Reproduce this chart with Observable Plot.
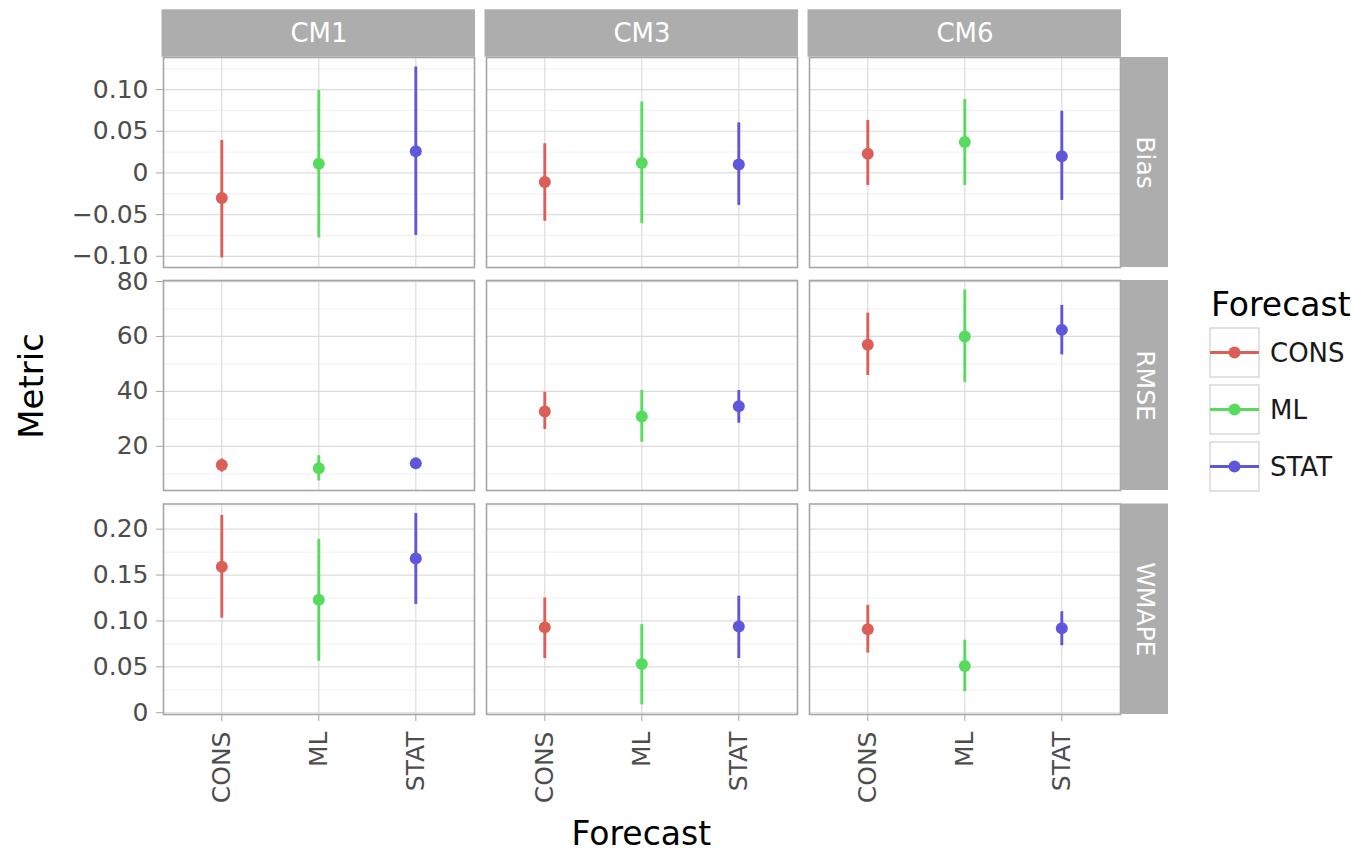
<!DOCTYPE html>
<html><head><meta charset="utf-8">
<script src="https://cdn.jsdelivr.net/npm/d3@7"></script>
<script src="https://cdn.jsdelivr.net/npm/@observablehq/plot@0.6"></script>
<style>
html,body{margin:0;padding:0;background:#fff;}
#chart{position:relative;width:1363px;height:855px;overflow:hidden;font-family:"DejaVu Sans",sans-serif;}
#chart .row{position:absolute;left:0;width:1363px;}
</style></head><body><div id="chart"></div>
<script>
// ---- data ----
const cms = ["CM1", "CM3", "CM6"];
const metrics = ["Bias", "RMSE", "WMAPE"];
const forecasts = ["CONS", "ML", "STAT"];
const colors = ["#db5f57", "#57db5f", "#5f57db"];

// values ordered: CM1 (CONS, ML, STAT), CM3 (CONS, ML, STAT), CM6 (CONS, ML, STAT)
const biasMean = [-0.030, 0.011, 0.026, -0.011, 0.012, 0.010, 0.023, 0.037, 0.020];
const biasLow  = [-0.102, -0.078, -0.075, -0.058, -0.061, -0.039, -0.015, -0.015, -0.033];
const biasHigh = [0.039, 0.099, 0.127, 0.035, 0.085, 0.060, 0.063, 0.088, 0.074];

const rmseMean = [13.2, 12.0, 13.8, 32.7, 30.9, 34.6, 57.0, 60.0, 62.4];
const rmseLow  = [10.6, 7.4, 12.3, 26.1, 21.5, 28.4, 45.8, 43.3, 53.3];
const rmseHigh = [15.4, 16.6, 15.3, 39.7, 40.3, 40.3, 68.5, 76.9, 71.3];

const wmapeMean = [0.159, 0.123, 0.168, 0.093, 0.053, 0.094, 0.091, 0.051, 0.092];
const wmapeLow  = [0.103, 0.056, 0.118, 0.059, 0.0085, 0.059, 0.065, 0.023, 0.073];
const wmapeHigh = [0.215, 0.189, 0.217, 0.125, 0.096, 0.127, 0.117, 0.079, 0.110];

const biasTicks = [-0.10, -0.05, 0, 0.05, 0.10];
const biasMinor = [-0.075, -0.025, 0.025, 0.075, 0.125];
const rmseTicks = [20, 40, 60, 80];
const rmseMinor = [10, 30, 50, 70];
const wmapeTicks = [0, 0.05, 0.10, 0.15, 0.20];
const wmapeMinor = [0.025, 0.075, 0.125, 0.175, 0.225];

// ---- build tables ----
function table(mean, low, high) {
  const out = [];
  cms.forEach((cm, ci) => forecasts.forEach((f, fi) => {
    const k = ci * 3 + fi;
    out.push({cm, forecast: f, mean: mean[k], low: low[k], high: high[k]});
  }));
  return out;
}
const rowsSpec = [
  {metric: "Bias", data: table(biasMean, biasLow, biasHigh), ticks: biasTicks, minor: biasMinor,
   fmt: d => d === 0 ? "0" : d3.format(".2f")(d)},
  {metric: "RMSE", data: table(rmseMean, rmseLow, rmseHigh), ticks: rmseTicks, minor: rmseMinor,
   fmt: d => d3.format("d")(d)},
  {metric: "WMAPE", data: table(wmapeMean, wmapeLow, wmapeHigh), ticks: wmapeTicks, minor: wmapeMinor,
   fmt: d => d === 0 ? "0" : d3.format(".2f")(d)}
];

// ---- layout ----
const W = 1363, ML = 161.7, MR = W - 1121;
const padInner = 0.03706;
const step = (W - ML - MR) / (3 - padInner);
const bw = step * (1 - padInner);
const layout = [
  {top: 0, mt: 57, h: 210, mb: 3},
  {top: 270, mt: 10, h: 210, mb: 3},
  {top: 493, mt: 10.5, h: 210.5, mb: 120}
];
const stripFill = "#adadad";
const tickCol = "#a6a6a6";
const textCol = "#4d4d4d";

const chart = document.getElementById("chart");

rowsSpec.forEach((spec, ri) => {
  const L = layout[ri];
  const lo = d3.min(spec.data, d => d.low), hi = d3.max(spec.data, d => d.high);
  const pad = (hi - lo) * 0.05;
  const marks = [
    Plot.gridY(spec.minor, {stroke: "#ededed", strokeOpacity: 1, strokeWidth: 0.8}),
    Plot.gridY(spec.ticks, {stroke: "#dcdcdc", strokeOpacity: 1, strokeWidth: 1.2}),
    Plot.gridX(forecasts, {stroke: "#dcdcdc", strokeOpacity: 1, strokeWidth: 1.2}),
    Plot.frame({stroke: tickCol, strokeWidth: 1.6}),
    Plot.axisY(spec.ticks, {facetAnchor: "left", tickSize: 7, tickPadding: 8, tickFormat: spec.fmt,
      stroke: tickCol, fill: textCol, fontSize: 25, label: null}),
    Plot.ruleX(spec.data, {fx: "cm", x: "forecast", y1: "low", y2: "high", stroke: "forecast", strokeWidth: 2.9}),
    Plot.dot(spec.data, {fx: "cm", x: "forecast", y: "mean", fill: "forecast", r: 6}),
    // right-hand row strip
    Plot.rect([spec.metric], {fx: () => "CM6", insetLeft: bw, insetRight: -48, fill: stripFill}),
    Plot.text([spec.metric], {fx: () => "CM6", text: d => d, frameAnchor: "right", dx: 24, rotate: 90,
      textAnchor: "middle", lineAnchor: "middle", fill: "white", fontSize: 25})
  ];
  if (ri === 0) {
    marks.push(
      Plot.rect(cms, {fx: d => d, insetTop: -47.7, insetBottom: L.h + 0.3, insetLeft: -1.5, insetRight: -1, fill: stripFill}),
      Plot.text(cms, {fx: d => d, text: d => d, frameAnchor: "top", dy: -24, textAnchor: "middle",
        lineAnchor: "middle", fill: "white", fontSize: 26})
    );
  }
  if (ri === 2) {
    marks.push(Plot.axisX(forecasts, {facetAnchor: "bottom", tickRotate: -90, tickSize: 7, tickPadding: 10,
      stroke: tickCol, fill: textCol, fontSize: 25, label: null}));
  }
  const svg = Plot.plot({
    width: W,
    height: L.mt + L.h + L.mb,
    marginLeft: ML, marginRight: MR, marginTop: L.mt, marginBottom: L.mb,
    style: {fontFamily: "DejaVu Sans", fontSize: "25px", background: "transparent", color: textCol, overflow: "visible"},
    fx: {domain: cms, paddingInner: padInner, paddingOuter: 0, axis: null, label: null},
    x: {type: "point", domain: forecasts, padding: 0.6, axis: null, label: null},
    y: {domain: [lo - pad, hi + pad], label: null},
    color: {domain: forecasts, range: colors},
    marks
  });
  const div = document.createElement("div");
  div.className = "row";
  div.style.top = L.top + "px";
  div.appendChild(svg);
  chart.appendChild(div);
});

// ---- titles and legend ----
const ov = d3.select(chart).append("svg")
  .attr("width", W).attr("height", 855)
  .style("position", "absolute").style("left", 0).style("top", 0)
  .style("pointer-events", "none")
  .style("font-family", "DejaVu Sans");

ov.append("text").attr("transform", "translate(43,386) rotate(-90)")
  .attr("text-anchor", "middle").attr("font-size", 34).attr("fill", "#000").text("Metric");
ov.append("text").attr("x", (ML + 1121) / 2).attr("y", 845)
  .attr("text-anchor", "middle").attr("font-size", 33).attr("fill", "#000").text("Forecast");

ov.append("text").attr("x", 1211).attr("y", 316).attr("font-size", 33).attr("fill", "#000").text("Forecast");
forecasts.forEach((f, i) => {
  const y0 = 328 + i * 57;
  const g = ov.append("g");
  g.append("rect").attr("x", 1210).attr("y", y0).attr("width", 49).attr("height", 49)
    .attr("fill", "#fff").attr("stroke", "#cfcfcf").attr("stroke-width", 1.2);
  g.append("line").attr("x1", 1210).attr("x2", 1259).attr("y1", y0 + 24.5).attr("y2", y0 + 24.5)
    .attr("stroke", colors[i]).attr("stroke-width", 2.9);
  g.append("circle").attr("cx", 1234.5).attr("cy", y0 + 24.5).attr("r", 6).attr("fill", colors[i]);
  g.append("text").attr("x", 1270).attr("y", y0 + 24.5).attr("dy", "0.36em")
    .attr("font-size", 26).attr("fill", "#1a1a1a").text(f);
});
</script></body></html>
